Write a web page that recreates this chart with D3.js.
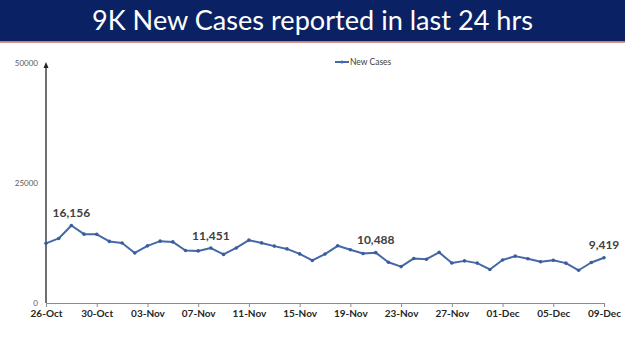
<!DOCTYPE html>
<html>
<head>
<meta charset="utf-8">
<script src="https://cdn.jsdelivr.net/npm/d3@7"></script>
<style>
  body { margin: 0; background: #fff; }
  svg { display: block; }
</style>
</head>
<body>
<div id="chart"></div>
<script>
// daily new cases, 26-Oct to 09-Dec
const dates = ['26-Oct','27-Oct','28-Oct','29-Oct','30-Oct','31-Oct','01-Nov','02-Nov','03-Nov','04-Nov',
  '05-Nov','06-Nov','07-Nov','08-Nov','09-Nov','10-Nov','11-Nov','12-Nov','13-Nov','14-Nov',
  '15-Nov','16-Nov','17-Nov','18-Nov','19-Nov','20-Nov','21-Nov','22-Nov','23-Nov','24-Nov',
  '25-Nov','26-Nov','27-Nov','28-Nov','29-Nov','30-Nov','01-Dec','02-Dec','03-Dec','04-Dec',
  '05-Dec','06-Dec','07-Dec','08-Dec','09-Dec'];
const newCases = [12428, 13451, 16156, 14348, 14313, 12830, 12514, 10423, 11903, 12885,
  12729, 10929, 10853, 11451, 10126, 11466, 13091, 12516, 11850, 11271,
  10229, 8865, 10197, 11919, 11106, 10302, 10488, 8488, 7579, 9283,
  9119, 10549, 8318, 8774, 8309, 6990, 8954, 9765, 9216, 8603,
  8895, 8306, 6822, 8439, 9419];
const labelled = ['28-Oct', '08-Nov', '21-Nov', '09-Dec'];
const yTicks = [0, 25000, 50000];
const title = '9K New Cases reported in last 24 hrs';

const width = 625, height = 351;
const svg = d3.select('#chart').append('svg')
  .attr('width', width)
  .attr('height', height);

// banner
svg.append('rect').attr('x', 0).attr('y', 0).attr('width', width).attr('height', 41)
  .attr('fill', '#0a2264');
svg.append('rect').attr('x', 0).attr('y', 41).attr('width', width).attr('height', 1.8)
  .attr('fill', '#cf7a68');
svg.append('text')
  .attr('x', width / 2).attr('y', 29.5)
  .attr('text-anchor', 'middle')
  .attr('font-family', 'Lato, sans-serif')
  .attr('font-size', 26)
  .attr('fill', '#fff')
  .attr('textLength', 441)
  .attr('lengthAdjust', 'spacingAndGlyphs')
  .text(title);

const x = d3.scaleLinear().domain([0, dates.length - 1]).range([46, 604]);
const y = d3.scaleLinear().domain([0, 50000]).range([303, 63]);

// x axis
const xAxis = d3.axisBottom(x)
  .tickValues(d3.range(0, dates.length, 4))
  .tickFormat(i => dates[i])
  .tickSize(4)
  .tickSizeOuter(0);
const gx = svg.append('g').attr('transform', 'translate(0,303)').call(xAxis);
gx.select('.domain').attr('stroke', '#8c8c8c');
gx.selectAll('.tick line').attr('stroke', '#8c8c8c');
gx.selectAll('.tick text')
  .attr('font-family', 'Lato, sans-serif')
  .attr('font-size', 10)
  .attr('font-weight', 'bold')
  .attr('fill', '#262626')
  .attr('dy', '0.71em')
  .attr('y', 7);

// y axis with arrow
const gy = svg.append('g').attr('transform', 'translate(46,0)')
  .call(d3.axisLeft(y).tickValues(yTicks).tickFormat(d3.format('d')).tickSize(0).tickPadding(8));
gy.select('.domain').remove();
gy.selectAll('.tick text')
  .attr('font-family', 'Lato, sans-serif')
  .attr('font-size', 8)
  .attr('fill', '#595959');
svg.append('line')
  .attr('x1', 46).attr('x2', 46)
  .attr('y1', y(0)).attr('y2', y(50000) + 4)
  .attr('stroke', '#404040').attr('stroke-width', 1.5);
svg.append('path')
  .attr('d', `M46,${y(50000) - 1}L43.5,${y(50000) + 5}L48.5,${y(50000) + 5}Z`)
  .attr('fill', '#262626');

// legend
svg.append('line')
  .attr('x1', 335).attr('x2', 349).attr('y1', 62).attr('y2', 62)
  .attr('stroke', '#4468a8').attr('stroke-width', 2);
svg.append('circle').attr('cx', 342).attr('cy', 62).attr('r', 1.6).attr('fill', '#4468a8');
svg.append('text')
  .attr('x', 350).attr('y', 64.5)
  .attr('font-family', 'Lato, sans-serif')
  .attr('font-size', 8.5)
  .attr('fill', '#404040')
  .text('New Cases');

// series
const line = d3.line()
  .x((d, i) => x(i))
  .y(d => y(d));
svg.append('path')
  .datum(newCases)
  .attr('d', line)
  .attr('fill', 'none')
  .attr('stroke', '#4468a8')
  .attr('stroke-width', 2)
  .attr('stroke-linejoin', 'round');

svg.selectAll('.pt')
  .data(newCases)
  .enter()
  .append('circle')
  .attr('class', 'pt')
  .attr('cx', (d, i) => x(i))
  .attr('cy', d => y(d))
  .attr('r', 1.8)
  .attr('fill', '#3a5d9c');

// value labels
svg.selectAll('.val')
  .data(labelled)
  .enter()
  .append('text')
  .attr('class', 'val')
  .attr('x', d => x(dates.indexOf(d)))
  .attr('y', d => y(newCases[dates.indexOf(d)]) - 8.5)
  .attr('text-anchor', 'middle')
  .attr('font-family', 'Lato, sans-serif')
  .attr('font-size', 12)
  .attr('font-weight', 'bold')
  .attr('fill', '#404040')
  .text(d => d3.format(',')(newCases[dates.indexOf(d)]));
</script>
</body>
</html>
